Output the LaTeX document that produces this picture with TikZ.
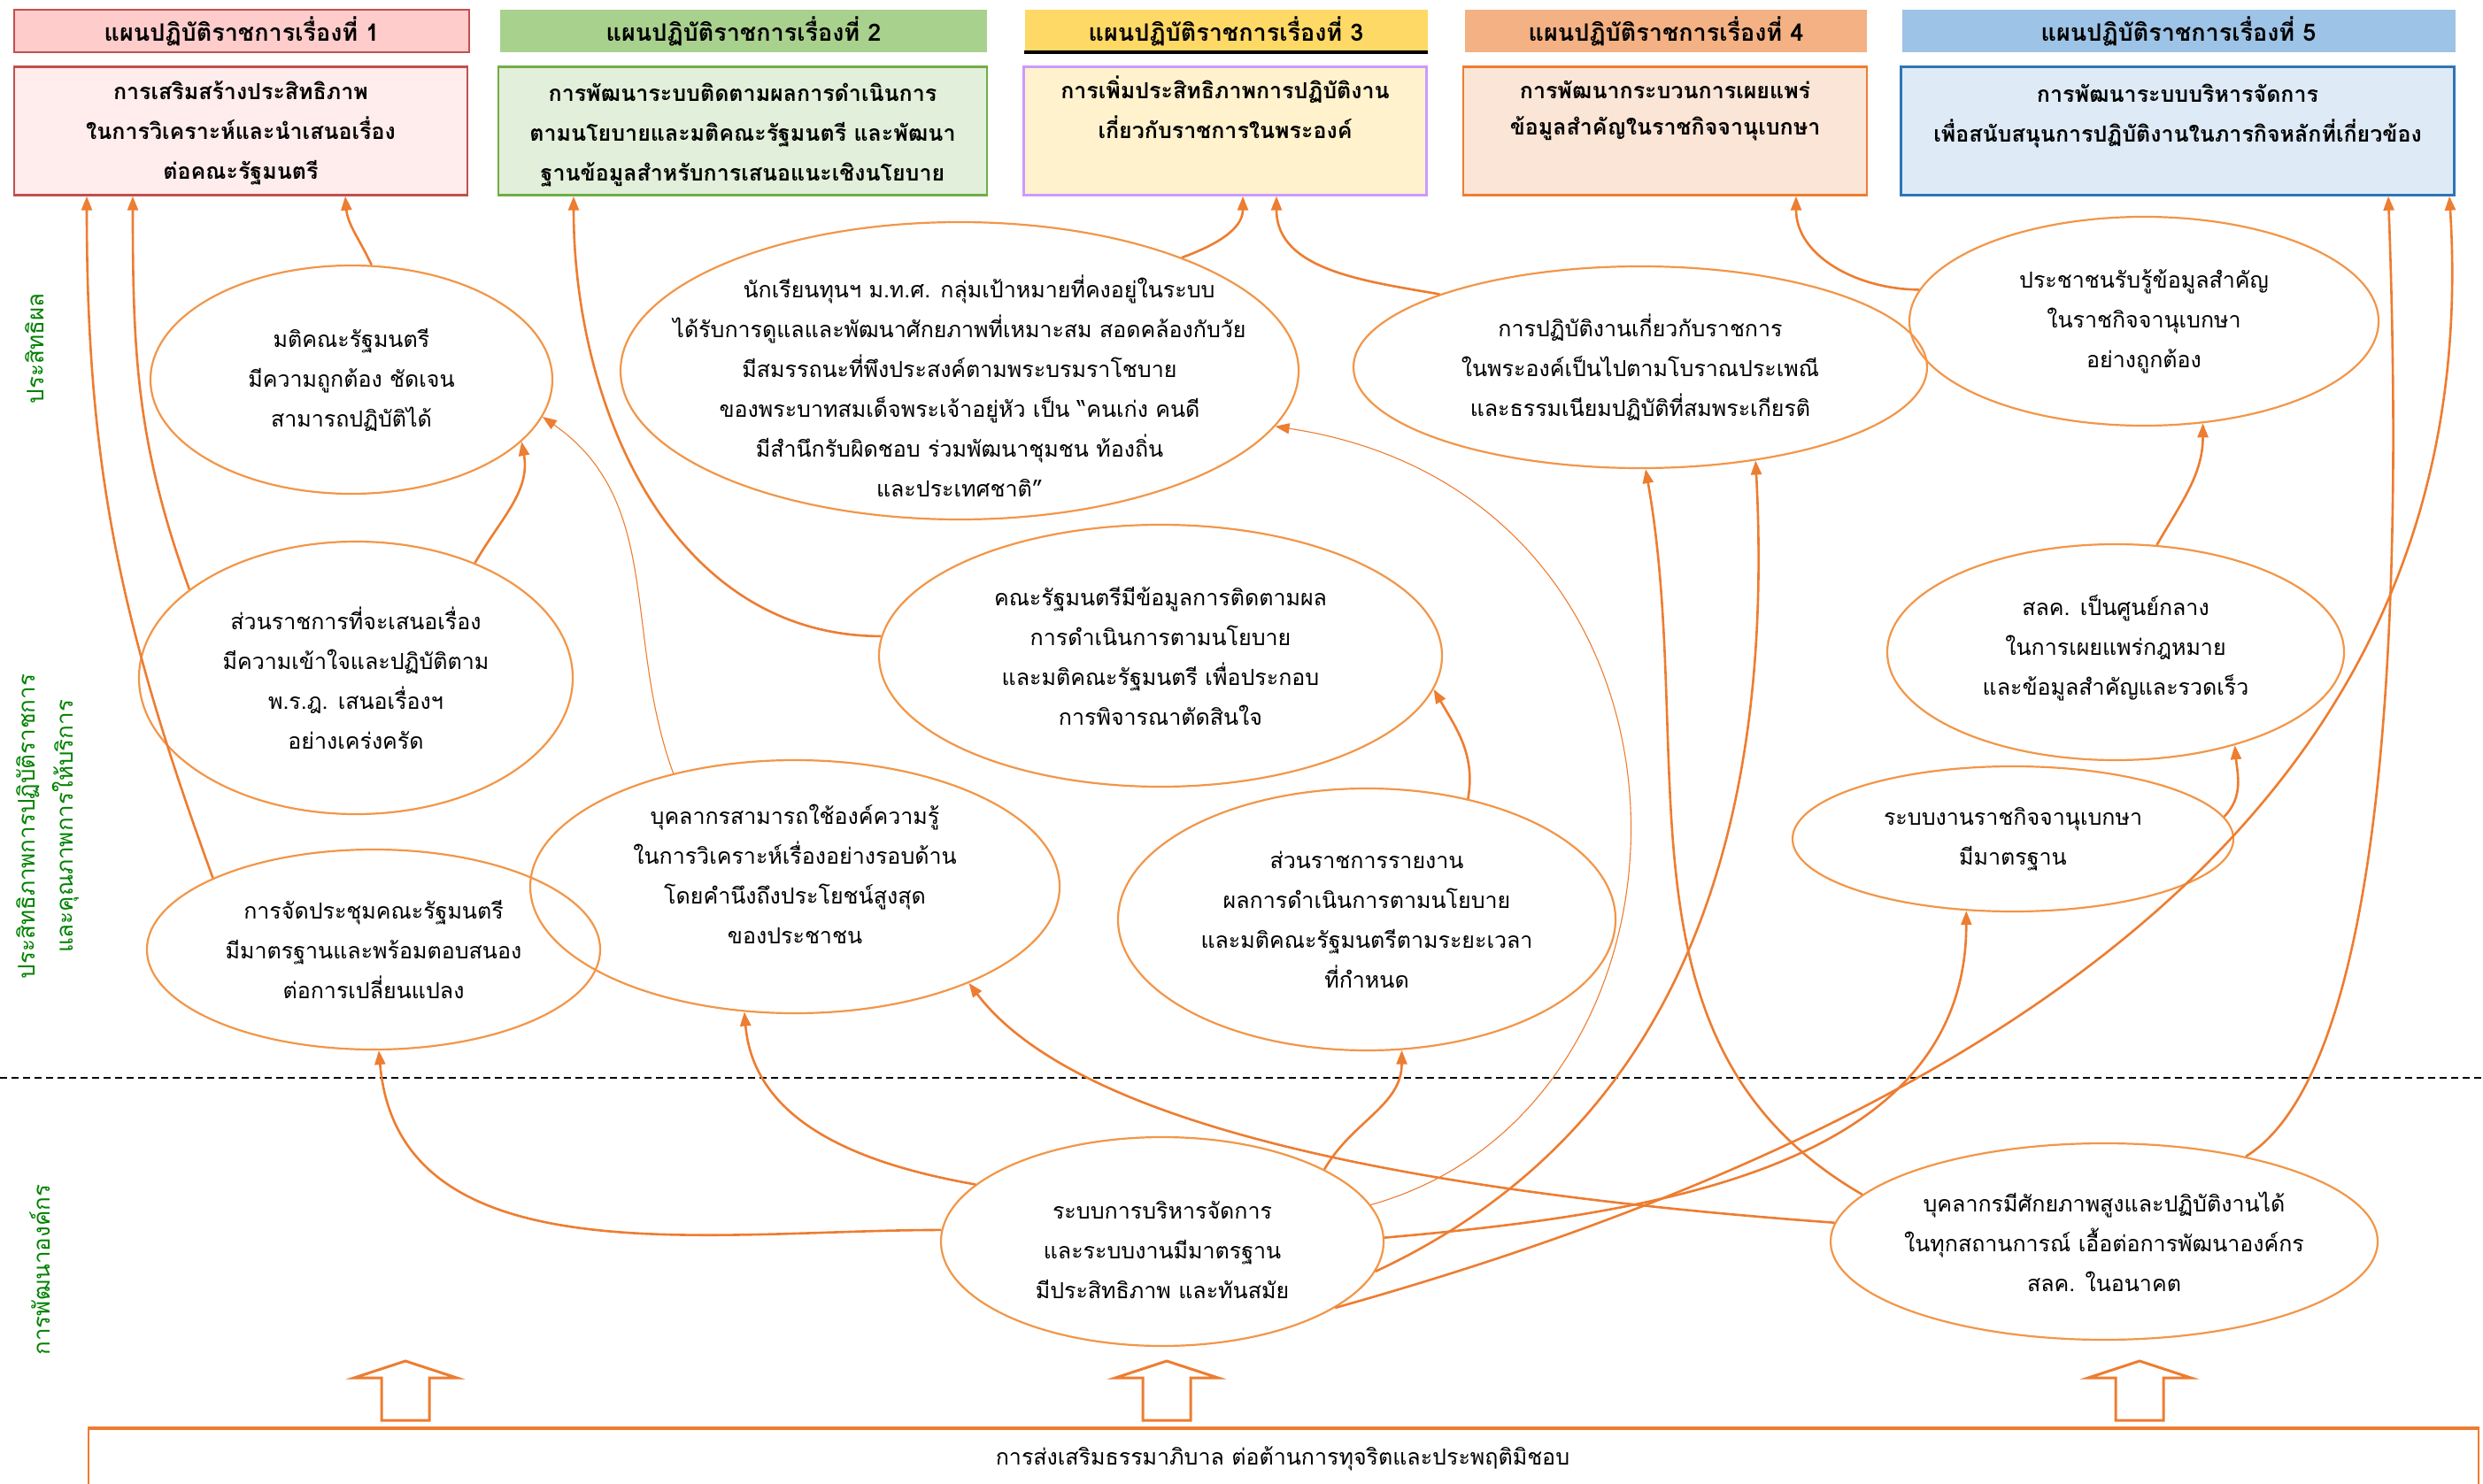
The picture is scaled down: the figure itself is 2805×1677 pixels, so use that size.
\documentclass[tikz,border=0pt]{standalone}
\usepackage{fontspec}
\setmainfont[Script=Thai]{Loma}
\usetikzlibrary{arrows.meta,positioning,shapes.geometric}

\definecolor{linkorange}{RGB}{237,125,49}
\definecolor{ringorange}{RGB}{242,150,72}
\definecolor{sidegreen}{RGB}{0,128,0}
\definecolor{redline}{RGB}{192,80,77}
\definecolor{redhead}{RGB}{255,204,204}
\definecolor{redfill}{RGB}{255,236,236}
\definecolor{greenhead}{RGB}{169,209,142}
\definecolor{greenfill}{RGB}{226,239,218}
\definecolor{greenline}{RGB}{112,173,71}
\definecolor{yellowhead}{RGB}{255,217,102}
\definecolor{yellowfill}{RGB}{255,242,204}
\definecolor{purpleline}{RGB}{204,153,255}
\definecolor{peachhead}{RGB}{244,177,131}
\definecolor{peachfill}{RGB}{251,229,214}
\definecolor{bluehead}{RGB}{157,195,230}
\definecolor{bluefill}{RGB}{222,235,247}
\definecolor{blueline}{RGB}{46,117,182}

\tikzset{
  plantitle/.style={minimum width=#1, minimum height=48pt, inner sep=0pt,
    font=\fontsize{27}{32}\selectfont\bfseries},
  planbox/.style={minimum width=#1, minimum height=145pt, inner sep=0pt, line width=2.4pt},
  boxtext/.style={align=center, inner sep=0pt, font=\fontsize{25}{45}\selectfont\bfseries},
  goal/.style={ellipse, draw=ringorange, line width=2.2pt, inner sep=0pt},
  goaltext/.style={align=center, inner sep=0pt, font=\fontsize{25}{45}\selectfont},
  link/.style={draw=linkorange, line width=2.6pt, -{Triangle[length=16pt,width=12pt]}},
  thinlink/.style={link, line width=1.1pt},
  sidelabel/.style={rotate=90, text=sidegreen, align=center, inner sep=0pt,
    font=\fontsize{26}{43}\selectfont},
  blockarrow/.style={draw=linkorange, line width=3pt, fill=white},
}

\begin{document}
\begin{tikzpicture}[x=1pt, y=1pt]
    \useasboundingbox (0,0) rectangle (2805,-1677);

    % plan headers
    \node[plantitle=514pt, fill=redhead, draw=redline, line width=2.4pt] (h1) at (273,-35) {แผนปฏิบัติราชการเรื่องที่ 1};
    \node[plantitle=550pt, fill=greenhead] (h2) at (840,-35) {แผนปฏิบัติราชการเรื่องที่ 2};
    \node[plantitle=455pt, fill=yellowhead] (h3) at (1385,-35) {แผนปฏิบัติราชการเรื่องที่ 3};
    \draw[line width=4pt] (h3.south west) -- (h3.south east);
    \node[plantitle=454pt, fill=peachhead] (h4) at (1882,-35) {แผนปฏิบัติราชการเรื่องที่ 4};
    \node[plantitle=625pt, fill=bluehead] (h5) at (2461,-35) {แผนปฏิบัติราชการเรื่องที่ 5};

    % plan boxes
    \node[planbox=512pt, fill=redfill, draw=redline] (b1) at (272,-148) {};
    \node[planbox=552pt, fill=greenfill, draw=greenline] (b2) at (839,-148) {};
    \node[planbox=455pt, fill=yellowfill, draw=purpleline] (b3) at (1384,-148) {};
    \node[planbox=456pt, fill=peachfill, draw=linkorange] (b4) at (1881,-148) {};
    \node[planbox=625pt, fill=bluefill, draw=blueline] (b5) at (2460,-148) {};

    \node[boxtext, below=17pt of b1.north] (t1) {การเสริมสร้างประสิทธิภาพ\\ในการวิเคราะห์และนำเสนอเรื่อง\\ต่อคณะรัฐมนตรี};
    \node[boxtext, below=20pt of b2.north] (t2) {การพัฒนาระบบติดตามผลการดำเนินการ\\ตามนโยบายและมติคณะรัฐมนตรี และพัฒนา\\ฐานข้อมูลสำหรับการเสนอแนะเชิงนโยบาย};
    \node[boxtext, below=11pt of b3.north] (t3) {การเพิ่มประสิทธิภาพการปฏิบัติงาน\\เกี่ยวกับราชการในพระองค์};
    \node[boxtext, below=17pt of b4.north, font=\fontsize{25}{41}\selectfont\bfseries] (t4) {การพัฒนากระบวนการเผยแพร่\\ข้อมูลสำคัญในราชกิจจานุเบกษา};
    \node[boxtext, below=21pt of b5.north] (t5) {การพัฒนาระบบบริหารจัดการ\\เพื่อสนับสนุนการปฏิบัติงานในภารกิจหลักที่เกี่ยวข้อง};

    % side labels
    \node[sidelabel] (s1) at (39,-394) {ประสิทธิผล};
    \node[sidelabel] (s2) at (54,-934) {ประสิทธิภาพการปฏิบัติราชการ\\และคุณภาพการให้บริการ};
    \node[sidelabel] (s3) at (45,-1435) {การพัฒนาองค์กร};

    \draw[dash pattern=on 8pt off 5pt, line width=2.2pt] (0,-1218) -- (2805,-1218);

    % goals
    \node[goal, minimum width=454pt, minimum height=258pt] (e1) at (397,-429) {};
    \node[goal, minimum width=766pt, minimum height=336pt] (e3) at (1084,-419) {};
    \node[goal, minimum width=648pt, minimum height=228pt] (e4) at (1853,-415) {};
    \node[goal, minimum width=530pt, minimum height=236pt] (e5) at (2422,-363) {};
    \node[goal, minimum width=490pt, minimum height=308pt] (e2) at (402,-766) {};
    \node[goal, minimum width=636pt, minimum height=296pt] (e6) at (1311,-741) {};
    \node[goal, minimum width=516pt, minimum height=244pt] (e7) at (2390,-737) {};
    \node[goal, minimum width=598pt, minimum height=286pt] (e8) at (898,-1002) {};
    \node[goal, minimum width=498pt, minimum height=164pt] (e9) at (2274,-948) {};
    \node[goal, minimum width=512pt, minimum height=226pt] (e10) at (422,-1073) {};
    \node[goal, minimum width=562pt, minimum height=296pt] (e11) at (1544,-1039) {};
    \node[goal, minimum width=500pt, minimum height=236pt] (e12) at (1313,-1403) {};
    \node[goal, minimum width=618pt, minimum height=222pt] (e13) at (2377,-1403) {};

    \node[goaltext] (e1t) at (e1) {มติคณะรัฐมนตรี\\มีความถูกต้อง ชัดเจน\\สามารถปฏิบัติได้};
    \node[goaltext, yshift=-17pt] (e3t) at (e3) {\hspace*{44pt}นักเรียนทุนฯ ม.ท.ศ. กลุ่มเป้าหมายที่คงอยู่ในระบบ\\ได้รับการดูแลและพัฒนาศักยภาพที่เหมาะสม สอดคล้องกับวัย\\มีสมรรถนะที่พึงประสงค์ตามพระบรมราโชบาย\\ของพระบาทสมเด็จพระเจ้าอยู่หัว เป็น “คนเก่ง คนดี\\มีสำนึกรับผิดชอบ ร่วมพัฒนาชุมชน ท้องถิ่น\\และประเทศชาติ”};
    \node[goaltext] (e4t) at (e4) {การปฏิบัติงานเกี่ยวกับราชการ\\ในพระองค์เป็นไปตามโบราณประเพณี\\และธรรมเนียมปฏิบัติที่สมพระเกียรติ};
    \node[goaltext] (e5t) at (e5) {ประชาชนรับรู้ข้อมูลสำคัญ\\ในราชกิจจานุเบกษา\\อย่างถูกต้อง};
    \node[goaltext] (e2t) at (e2) {ส่วนราชการที่จะเสนอเรื่อง\\มีความเข้าใจและปฏิบัติตาม\\พ.ร.ฎ. เสนอเรื่องฯ\\อย่างเคร่งครัด};
    \node[goaltext] (e6t) at (e6) {คณะรัฐมนตรีมีข้อมูลการติดตามผล\\การดำเนินการตามนโยบาย\\และมติคณะรัฐมนตรี เพื่อประกอบ\\การพิจารณาตัดสินใจ};
    \node[goaltext, yshift=5pt] (e7t) at (e7) {สลค. เป็นศูนย์กลาง\\ในการเผยแพร่กฎหมาย\\และข้อมูลสำคัญและรวดเร็ว};
    \node[goaltext, yshift=14pt] (e8t) at (e8) {บุคลากรสามารถใช้องค์ความรู้\\ในการวิเคราะห์เรื่องอย่างรอบด้าน\\โดยคำนึงถึงประโยชน์สูงสุด\\ของประชาชน};
    \node[goaltext] (e9t) at (e9) {ระบบงานราชกิจจานุเบกษา\\มีมาตรฐาน};
    \node[goaltext] (e10t) at (e10) {การจัดประชุมคณะรัฐมนตรี\\มีมาตรฐานและพร้อมตอบสนอง\\ต่อการเปลี่ยนแปลง};
    \node[goaltext] (e11t) at (e11) {ส่วนราชการรายงาน\\ผลการดำเนินการตามนโยบาย\\และมติคณะรัฐมนตรีตามระยะเวลา\\ที่กำหนด};
    \node[goaltext, yshift=-10pt] (e12t) at (e12) {ระบบการบริหารจัดการ\\และระบบงานมีมาตรฐาน\\มีประสิทธิภาพ และทันสมัย};
    \node[goaltext] (e13t) at (e13) {บุคลากรมีศักยภาพสูงและปฏิบัติงานได้\\ในทุกสถานการณ์ เอื้อต่อการพัฒนาองค์กร\\สลค. ในอนาคต};

    % links
    \draw[link] (e2.152) to[out=110, in=-90] ([xshift=-122pt]b1.south);
    \draw[link] (e10.156) to[out=110, in=-90] ([xshift=-174pt]b1.south);
    \draw[link] (e1.80) to[out=115, in=-85] ([xshift=118pt]b1.south);
    \draw[link] (e2.44) to[out=60, in=-80] (e1.-20);
    \draw[thinlink] (e8.137) to[out=110, in=-35] (e1.-11);
    \draw[link] (e6.176) to[out=180, in=-90] ([xshift=-191pt]b2.south);
    \draw[link] (e3.27) to[out=20, in=-90] ([xshift=20pt]b3.south);
    \draw[link] (e4.160) to[out=170, in=-90] ([xshift=58pt]b3.south);
    \draw[link] (e5.172) to[out=180, in=-90] ([xshift=148pt]b4.south);
    \draw[link] (e7.69) to[out=60, in=-90] (e5.-60);
    \draw[link] (e9.6) to[out=45, in=-85] (e7.-38);
    \draw[link] (e11.50) to[out=80, in=-60] (e6.-7);
    \draw[thinlink] (e12.10) .. controls (1950,-1250) and (1960,-560) .. (e3.-10);
    \draw[link] (e12.163) to[out=170, in=-85] (e8.-112);
    \draw[link] (e12.177) to[out=180, in=-85] (e10.-87);
    \draw[link] (e12.24) to[out=60, in=-90] (e11.-75);
    \draw[link] (e12.1) to[out=5, in=-90] (e9.-123);
    \draw[link] (e12.-8) to[out=25, in=-87] (e4.-39);
    \draw[link] (e12.-21) .. controls (2500,-1200) and (2800,-750) .. ([xshift=307pt]b5.south);
    \draw[link] (e13.169) to[out=150, in=-80] (e4.-87);
    \draw[link] (e13.176) .. controls (1500,-1340) and (1200,-1250) .. (e8.-29);
    \draw[link] (e13.31) .. controls (2710,-1200) and (2712,-600) .. ([xshift=238pt]b5.south);

    % base
    \node[draw=linkorange, line width=1.5pt, minimum width=2700pt, minimum height=140pt, anchor=north] (base) at (1450,-1614) {};
    \draw[draw=linkorange, line width=4pt] (base.north west) -- (base.north east);
    \node[goaltext] (baset) at (1449,-1648) {การส่งเสริมธรรมาภิบาล ต่อต้านการทุจริตและประพฤติมิชอบ};

    \draw[blockarrow] (458,-1538) -- ++(58,-19) -- ++(-31,0) -- ++(0,-48) -- ++(-54,0) -- ++(0,48) -- ++(-31,0) -- cycle;
    \draw[blockarrow] (1318,-1538) -- ++(58,-19) -- ++(-31,0) -- ++(0,-48) -- ++(-54,0) -- ++(0,48) -- ++(-31,0) -- cycle;
    \draw[blockarrow] (2417,-1538) -- ++(58,-19) -- ++(-31,0) -- ++(0,-48) -- ++(-54,0) -- ++(0,48) -- ++(-31,0) -- cycle;
\end{tikzpicture}
\end{document}
